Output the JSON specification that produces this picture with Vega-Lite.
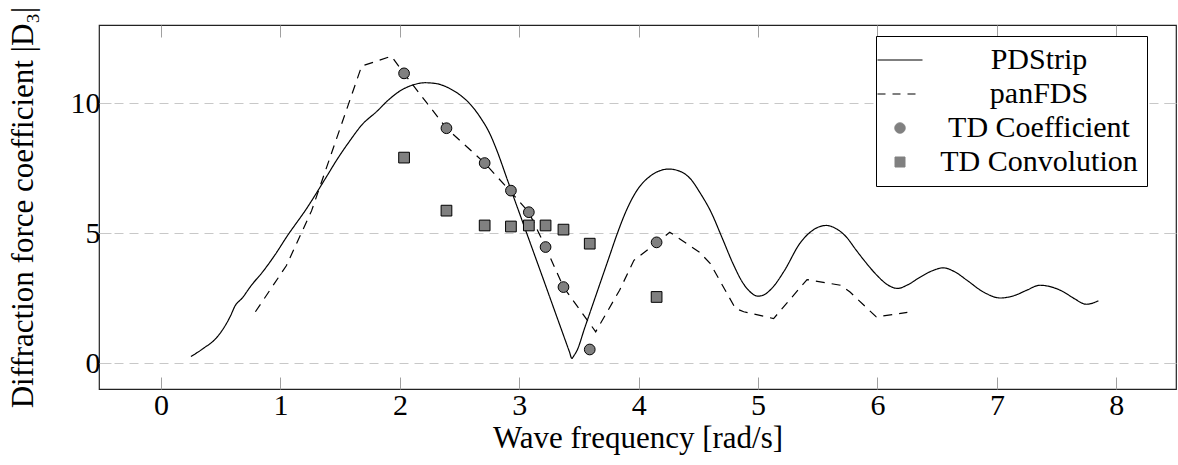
{
  "$schema": "https://vega.github.io/schema/vega-lite/v6.json",
  "width": 1077,
  "height": 364,
  "autosize": "none",
  "padding": {"left": 99, "top": 25, "right": 2, "bottom": 76},
  "config": {
    "font": "Liberation Serif, DejaVu Serif, serif",
    "view": {"stroke": "#222", "strokeWidth": 1.2},
    "axis": {"labelFont": "Liberation Serif, DejaVu Serif, serif", "titleFont": "Liberation Serif, DejaVu Serif, serif", "labelColor": "black", "titleColor": "black", "titleFontWeight": "normal", "labelFontSize": 30, "titleFontSize": 31}
  },
  "datasets": {
    "pd": [
      {"series": "PDStrip", "w": 0.25, "D": 0.25},
      {"series": "PDStrip", "w": 0.35, "D": 0.55},
      {"series": "PDStrip", "w": 0.47, "D": 1.0},
      {"series": "PDStrip", "w": 0.58, "D": 1.8},
      {"series": "PDStrip", "w": 0.62, "D": 2.2},
      {"series": "PDStrip", "w": 0.68, "D": 2.5},
      {"series": "PDStrip", "w": 0.75, "D": 2.95},
      {"series": "PDStrip", "w": 0.86, "D": 3.56},
      {"series": "PDStrip", "w": 0.96, "D": 4.2},
      {"series": "PDStrip", "w": 1.05, "D": 4.84},
      {"series": "PDStrip", "w": 1.22, "D": 5.95},
      {"series": "PDStrip", "w": 1.39, "D": 7.2},
      {"series": "PDStrip", "w": 1.47, "D": 7.8},
      {"series": "PDStrip", "w": 1.58, "D": 8.54},
      {"series": "PDStrip", "w": 1.68, "D": 9.15},
      {"series": "PDStrip", "w": 1.81, "D": 9.69},
      {"series": "PDStrip", "w": 1.9, "D": 10.1},
      {"series": "PDStrip", "w": 2.0, "D": 10.46},
      {"series": "PDStrip", "w": 2.1, "D": 10.68},
      {"series": "PDStrip", "w": 2.21, "D": 10.78},
      {"series": "PDStrip", "w": 2.3, "D": 10.75},
      {"series": "PDStrip", "w": 2.42, "D": 10.55},
      {"series": "PDStrip", "w": 2.52, "D": 10.25},
      {"series": "PDStrip", "w": 2.59, "D": 9.95},
      {"series": "PDStrip", "w": 2.68, "D": 9.4},
      {"series": "PDStrip", "w": 2.75, "D": 8.85},
      {"series": "PDStrip", "w": 2.81, "D": 8.2},
      {"series": "PDStrip", "w": 2.9, "D": 7.05},
      {"series": "PDStrip", "w": 3.0, "D": 5.78},
      {"series": "PDStrip", "w": 3.1, "D": 4.51},
      {"series": "PDStrip", "w": 3.2, "D": 3.24},
      {"series": "PDStrip", "w": 3.3, "D": 1.96},
      {"series": "PDStrip", "w": 3.38, "D": 0.94},
      {"series": "PDStrip", "w": 3.42, "D": 0.43},
      {"series": "PDStrip", "w": 3.44, "D": 0.18},
      {"series": "PDStrip", "w": 3.46, "D": 0.3},
      {"series": "PDStrip", "w": 3.48, "D": 0.45},
      {"series": "PDStrip", "w": 3.55, "D": 1.38},
      {"series": "PDStrip", "w": 3.65, "D": 2.71},
      {"series": "PDStrip", "w": 3.75, "D": 4.04},
      {"series": "PDStrip", "w": 3.82, "D": 4.97},
      {"series": "PDStrip", "w": 3.9, "D": 5.9},
      {"series": "PDStrip", "w": 3.98, "D": 6.6},
      {"series": "PDStrip", "w": 4.1, "D": 7.2},
      {"series": "PDStrip", "w": 4.18, "D": 7.4},
      {"series": "PDStrip", "w": 4.25, "D": 7.46},
      {"series": "PDStrip", "w": 4.33, "D": 7.4},
      {"series": "PDStrip", "w": 4.43, "D": 7.1},
      {"series": "PDStrip", "w": 4.52, "D": 6.5},
      {"series": "PDStrip", "w": 4.6, "D": 5.86},
      {"series": "PDStrip", "w": 4.7, "D": 4.8},
      {"series": "PDStrip", "w": 4.79, "D": 3.82},
      {"series": "PDStrip", "w": 4.87, "D": 3.1},
      {"series": "PDStrip", "w": 4.93, "D": 2.75},
      {"series": "PDStrip", "w": 5.0, "D": 2.57},
      {"series": "PDStrip", "w": 5.06, "D": 2.65},
      {"series": "PDStrip", "w": 5.13, "D": 2.95},
      {"series": "PDStrip", "w": 5.22, "D": 3.55},
      {"series": "PDStrip", "w": 5.35, "D": 4.6},
      {"series": "PDStrip", "w": 5.45, "D": 5.08},
      {"series": "PDStrip", "w": 5.57, "D": 5.29},
      {"series": "PDStrip", "w": 5.66, "D": 5.15},
      {"series": "PDStrip", "w": 5.74, "D": 4.84},
      {"series": "PDStrip", "w": 5.82, "D": 4.35},
      {"series": "PDStrip", "w": 5.91, "D": 3.82},
      {"series": "PDStrip", "w": 6.0, "D": 3.35},
      {"series": "PDStrip", "w": 6.08, "D": 3.02},
      {"series": "PDStrip", "w": 6.17, "D": 2.87},
      {"series": "PDStrip", "w": 6.25, "D": 3.0},
      {"series": "PDStrip", "w": 6.36, "D": 3.31},
      {"series": "PDStrip", "w": 6.46, "D": 3.55},
      {"series": "PDStrip", "w": 6.55, "D": 3.66},
      {"series": "PDStrip", "w": 6.65, "D": 3.5},
      {"series": "PDStrip", "w": 6.75, "D": 3.18},
      {"series": "PDStrip", "w": 6.88, "D": 2.75},
      {"series": "PDStrip", "w": 7.03, "D": 2.5},
      {"series": "PDStrip", "w": 7.15, "D": 2.6},
      {"series": "PDStrip", "w": 7.25, "D": 2.8},
      {"series": "PDStrip", "w": 7.36, "D": 2.99},
      {"series": "PDStrip", "w": 7.46, "D": 2.92},
      {"series": "PDStrip", "w": 7.56, "D": 2.73},
      {"series": "PDStrip", "w": 7.65, "D": 2.47},
      {"series": "PDStrip", "w": 7.75, "D": 2.26},
      {"series": "PDStrip", "w": 7.85, "D": 2.39}
    ],
    "pan": [
      {"series": "panFDS", "w": 0.79, "D": 1.97},
      {"series": "panFDS", "w": 1.05, "D": 3.75},
      {"series": "panFDS", "w": 1.26, "D": 5.85},
      {"series": "panFDS", "w": 1.68, "D": 11.42},
      {"series": "panFDS", "w": 1.93, "D": 11.8},
      {"series": "panFDS", "w": 2.04, "D": 11.1},
      {"series": "panFDS", "w": 2.39, "D": 9.03},
      {"series": "panFDS", "w": 2.71, "D": 7.69},
      {"series": "panFDS", "w": 2.92, "D": 6.63},
      {"series": "panFDS", "w": 3.08, "D": 5.8},
      {"series": "panFDS", "w": 3.22, "D": 4.46},
      {"series": "panFDS", "w": 3.37, "D": 2.92},
      {"series": "panFDS", "w": 3.64, "D": 1.2},
      {"series": "panFDS", "w": 3.84, "D": 2.8},
      {"series": "panFDS", "w": 3.96, "D": 3.95},
      {"series": "panFDS", "w": 4.15, "D": 4.62},
      {"series": "panFDS", "w": 4.26, "D": 5.03},
      {"series": "panFDS", "w": 4.51, "D": 4.26},
      {"series": "panFDS", "w": 4.6, "D": 3.82},
      {"series": "panFDS", "w": 4.81, "D": 2.1},
      {"series": "panFDS", "w": 4.88, "D": 1.97},
      {"series": "panFDS", "w": 5.13, "D": 1.71},
      {"series": "panFDS", "w": 5.41, "D": 3.21},
      {"series": "panFDS", "w": 5.69, "D": 2.99},
      {"series": "panFDS", "w": 5.77, "D": 2.73},
      {"series": "panFDS", "w": 5.99, "D": 1.77},
      {"series": "panFDS", "w": 6.25, "D": 1.95}
    ],
    "points": [
      {"series": "TD Coefficient", "w": 2.035, "D": 11.14},
      {"series": "TD Coefficient", "w": 2.39, "D": 9.03},
      {"series": "TD Coefficient", "w": 2.71, "D": 7.69},
      {"series": "TD Coefficient", "w": 2.93, "D": 6.63},
      {"series": "TD Coefficient", "w": 3.08, "D": 5.8},
      {"series": "TD Coefficient", "w": 3.22, "D": 4.46},
      {"series": "TD Coefficient", "w": 3.37, "D": 2.92},
      {"series": "TD Coefficient", "w": 3.59, "D": 0.52},
      {"series": "TD Coefficient", "w": 4.15, "D": 4.64},
      {"series": "TD Convolution", "w": 2.035, "D": 7.9},
      {"series": "TD Convolution", "w": 2.39, "D": 5.86},
      {"series": "TD Convolution", "w": 2.71, "D": 5.29},
      {"series": "TD Convolution", "w": 2.93, "D": 5.25},
      {"series": "TD Convolution", "w": 3.08, "D": 5.29},
      {"series": "TD Convolution", "w": 3.22, "D": 5.29},
      {"series": "TD Convolution", "w": 3.37, "D": 5.13},
      {"series": "TD Convolution", "w": 3.59, "D": 4.59},
      {"series": "TD Convolution", "w": 4.15, "D": 2.54}
    ]
  },
  "resolve": {"axis": {"x": "independent", "y": "independent"}},
  "layer": [
    {
      "data": {"name": "pan"},
      "mark": {"type": "line", "strokeWidth": 1.2, "interpolate": "linear"},
      "encoding": {
        "x": {"field": "w", "type": "quantitative", "scale": {"domain": [-0.52, 8.5], "nice": false, "zero": false},
              "axis": {"orient": "bottom", "values": [0,1,2,3,4,5,6,7,8], "domain": false, "grid": false, "tickSize": -12, "tickColor": "#a0a0a0", "tickWidth": 1, "labelPadding": 13, "title": "Wave frequency [rad/s]", "titlePadding": 3}},
        "y": {"field": "D", "type": "quantitative", "scale": {"domain": [-1, 13], "nice": false, "zero": false},
              "axis": {"orient": "left", "values": [0,5,10], "domain": false, "grid": true, "gridColor": "#c8c8c8", "gridDash": [9,6], "gridWidth": 1, "tickSize": -12, "tickColor": "#c8c8c8", "labelPadding": 11, "title": "Diffraction force coefficient |D₃|", "titleX": -76, "titleY": 182, "titleBaseline": "middle"}},
        "color": {"field": "series", "type": "nominal",
          "scale": {"domain": ["PDStrip", "panFDS", "TD Coefficient", "TD Convolution"], "range": ["black", "black", "#808080", "#808080"]},
          "legend": {
            "title": null, "orient": "none", "legendX": 777, "legendY": 11,
            "padding": 9, "strokeColor": "black", "fillColor": "white", "cornerRadius": 0,
            "labelFont": "Liberation Serif, DejaVu Serif, serif", "labelFontSize": 30, "labelColor": "black", "labelAlign": "center", "labelOffset": 124, "labelLimit": 400,
            "symbolSize": 2025, "symbolStrokeWidth": 1.2, "rowPadding": 4,
            "encode": {"symbols": {"update": {
              "shape": {"signal": "datum.value == 'TD Coefficient' ? 'circle' : datum.value == 'TD Convolution' ? 'square' : 'stroke'"},
              "size": {"signal": "datum.value == 'TD Coefficient' ? 110 : datum.value == 'TD Convolution' ? 100 : 2025"},
              "fill": {"signal": "datum.value == 'TD Coefficient' || datum.value == 'TD Convolution' ? '#808080' : 'transparent'"},
              "stroke": {"value": "black"},
              "strokeDash": {"signal": "datum.value == 'panFDS' ? [8,7] : [1,0]"},
              "strokeWidth": {"signal": "datum.value == 'TD Coefficient' || datum.value == 'TD Convolution' ? 1 : 1.2"},
              "opacity": {"value": 1}
            }}}
          }},
        "strokeDash": {"field": "series", "type": "nominal", "scale": {"domain": ["PDStrip", "panFDS"], "range": [[1,0],[9,7]]}, "legend": null}
      }
    },
    {
      "data": {"name": "pd"},
      "mark": {"type": "line", "strokeWidth": 1.2, "interpolate": "monotone"},
      "encoding": {
        "x": {"field": "w", "type": "quantitative", "axis": null},
        "y": {"field": "D", "type": "quantitative", "axis": null},
        "color": {"field": "series", "type": "nominal"},
        "strokeDash": {"field": "series", "type": "nominal", "legend": null}
      }
    },
    {
      "data": {"name": "points"},
      "mark": {"type": "point", "filled": true, "fill": "#808080", "stroke": "black", "strokeWidth": 1, "opacity": 1, "size": 115},
      "encoding": {
        "x": {"field": "w", "type": "quantitative",
              "axis": {"orient": "top", "values": [0,1,2,3,4,5,6,7,8], "domain": false, "grid": false, "labels": false, "tickSize": -12, "tickColor": "#a0a0a0", "tickWidth": 1, "title": null}},
        "y": {"field": "D", "type": "quantitative",
              "axis": {"orient": "right", "values": [0,5,10], "domain": false, "grid": false, "labels": false, "tickSize": -12, "tickColor": "#c8c8c8", "title": null}},
        "shape": {"field": "series", "type": "nominal", "scale": {"domain": ["TD Coefficient", "TD Convolution"], "range": ["circle", "square"]}, "legend": null}
      }
    }
  ]
}
